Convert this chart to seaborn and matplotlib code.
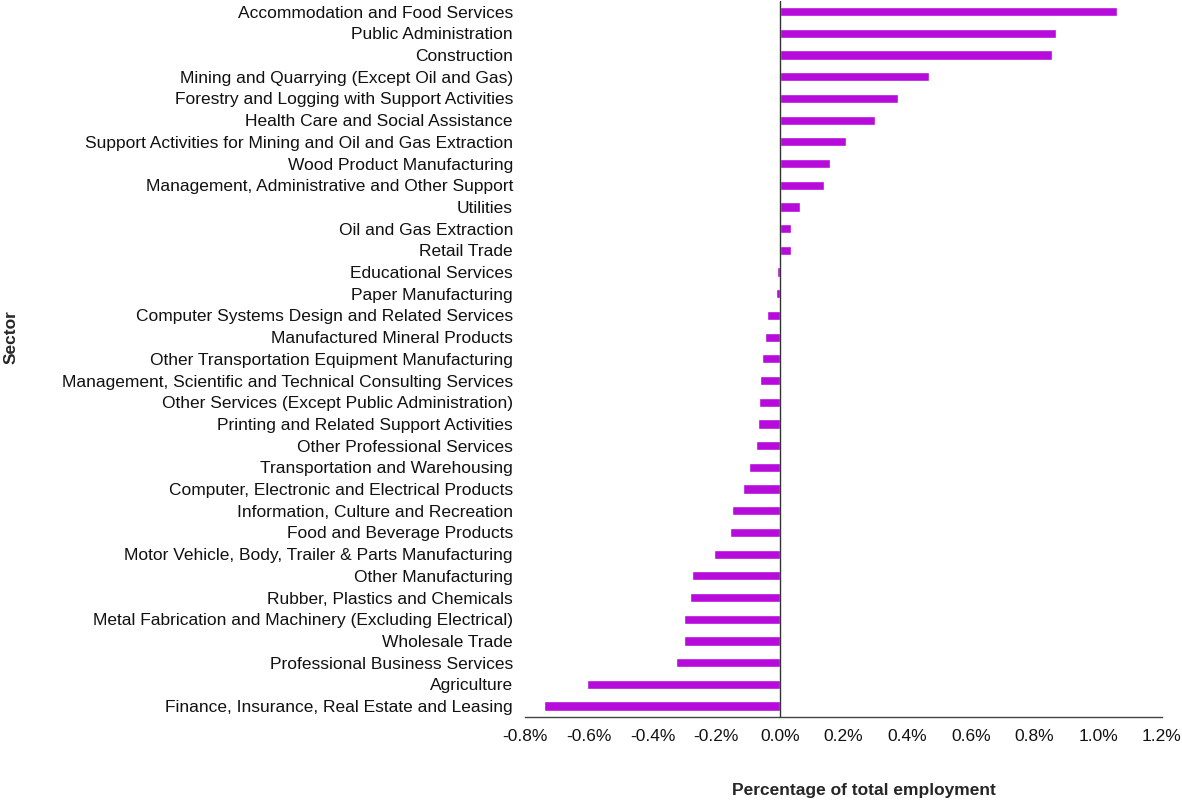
import numpy as np
import pandas as pd
import seaborn as sns
import matplotlib.pyplot as plt
from matplotlib.ticker import FuncFormatter

sectors = [
    "Accommodation and Food Services",
    "Public Administration",
    "Construction",
    "Mining and Quarrying (Except Oil and Gas)",
    "Forestry and Logging with Support Activities",
    "Health Care and Social Assistance",
    "Support Activities for Mining and Oil and Gas Extraction",
    "Wood Product Manufacturing",
    "Management, Administrative and Other Support",
    "Utilities",
    "Oil and Gas Extraction",
    "Retail Trade",
    "Educational Services",
    "Paper Manufacturing",
    "Computer Systems Design and Related Services",
    "Manufactured Mineral Products",
    "Other Transportation Equipment Manufacturing",
    "Management, Scientific and Technical Consulting Services",
    "Other Services (Except Public Administration)",
    "Printing and Related Support Activities",
    "Other Professional Services",
    "Transportation and Warehousing",
    "Computer, Electronic and Electrical Products",
    "Information, Culture and Recreation",
    "Food and Beverage Products",
    "Motor Vehicle, Body, Trailer & Parts Manufacturing",
    "Other Manufacturing",
    "Rubber, Plastics and Chemicals",
    "Metal Fabrication and Machinery (Excluding Electrical)",
    "Wholesale Trade",
    "Professional Business Services",
    "Agriculture",
    "Finance, Insurance, Real Estate and Leasing",
]
# percentage of total employment (in %)
pct_change = [
    1.058, 0.867, 0.856, 0.469, 0.370, 0.298, 0.206, 0.156, 0.137, 0.062,
    0.036, 0.033, -0.008, -0.012, -0.042, -0.046, -0.058, -0.062, -0.066,
    -0.070, -0.074, -0.097, -0.117, -0.152, -0.158, -0.207, -0.278, -0.282,
    -0.302, -0.302, -0.326, -0.605, -0.741,
]
x_ticks = [-0.8, -0.6, -0.4, -0.2, 0.0, 0.2, 0.4, 0.6, 0.8, 1.0, 1.2]

df = pd.DataFrame({"Sector": sectors, "Pct": pct_change})

sns.set_style("white")
plt.rcParams['font.family'] = ['Liberation Sans', 'DejaVu Sans']

fig = plt.figure(figsize=(11.82, 8.01), dpi=100)
ax = fig.add_axes([0.4445, 0.105, 0.5385, 0.894])

sns.barplot(data=df, x="Pct", y="Sector", orient="h", color="#B60BDB",
            saturation=1, width=0.42, ax=ax)

ax.axvline(0, color="#333333", lw=1.0, zorder=3)
ax.set_xlim(-0.8, 1.2)
ax.set_xticks(x_ticks)
ax.xaxis.set_major_formatter(FuncFormatter(lambda v, p: f"{v:.1f}%"))
ax.tick_params(axis="both", length=0, labelsize=12.5, colors="#111111")
ax.tick_params(axis="y", pad=9)
ax.tick_params(axis="x", pad=9)

sns.despine(ax=ax, left=True)
ax.spines["bottom"].set_color("#444444")
ax.spines["bottom"].set_linewidth(1.0)

ax.set_xlabel("Percentage of total employment", fontsize=12.5, fontweight="bold")
ax.set_ylabel("Sector", fontsize=12.5, fontweight="bold")
ax.xaxis.set_label_coords(0.532, -0.093)
ax.yaxis.set_label_coords(-0.797, 0.53)

fig.savefig("out.png", dpi=100)
